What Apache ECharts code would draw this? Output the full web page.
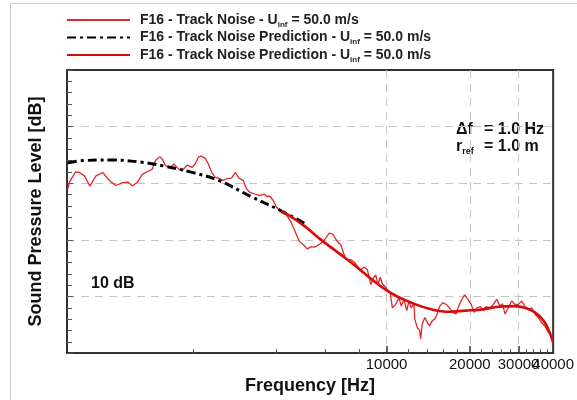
<!DOCTYPE html>
<html>
<head>
<meta charset="utf-8">
<script src="https://cdn.jsdelivr.net/npm/echarts@6/dist/echarts.min.js"></script>
<style>
  html, body { margin: 0; padding: 0; background: #fff; }
  #chart { width: 577px; height: 400px; }
</style>
</head>
<body>
<div id="chart"></div>
<script>
// Measured track noise spectrum (frequency in Hz, level in dB)
const measFreq = [
  705, 714, 752, 776, 809, 847, 891, 942, 996, 1052,
  1112, 1159, 1208, 1259, 1312, 1387, 1423, 1463, 1514, 1546,
  1589, 1656, 1703, 1775, 1824, 1901, 1982, 2032, 2089, 2138,
  2208, 2270, 2335, 2399, 2500, 2570, 2642, 2754, 2844, 2924,
  3034, 3119, 3206, 3342, 3483, 3606, 3681, 3784, 3890, 3999,
  4169, 4345, 4498, 4624, 4753, 4842, 5020, 5164, 5343, 5483,
  5670, 5875, 6043, 6209, 6383, 6622, 6839, 7129, 7430, 7638,
  7852, 8072, 8298, 8531, 8770, 8967, 9142, 9314, 9484, 9660,
  9862, 10066, 10295, 10495, 10791, 11090, 11300, 11560, 11830, 12050,
  12270, 12560, 12650, 12910, 13160, 13280, 13450, 13750, 14030, 14300,
  14620, 14940, 15230, 15530, 15960, 16410, 16870, 17340, 17820, 18230,
  18720, 19150, 19680, 20230, 20700, 21200, 21820, 22400, 22850, 23710,
  24330, 25020, 25700, 26240, 26800, 27550, 28330, 29120, 29940, 30780,
  31620, 32510, 33420, 34360, 35320, 36310, 37330, 38380, 39260, 40000
];
const measLevel = [
  49.0, 50.2, 52.0, 51.9, 51.3, 49.5, 51.3, 51.9, 50.5, 49.6,
  50.1, 50.2, 49.5, 50.2, 51.6, 52.2, 52.5, 54.0, 54.7, 54.3,
  53.1, 52.8, 53.4, 52.5, 52.2, 53.2, 52.8, 53.4, 54.6, 54.8,
  54.4, 53.4, 51.9, 51.1, 50.8, 50.5, 50.8, 50.9, 51.9, 50.9,
  50.5, 49.0, 48.4, 48.1, 47.8, 48.1, 47.7, 47.7, 47.0, 45.8,
  44.8, 44.4, 43.3, 42.0, 40.6, 39.7, 39.1, 38.4, 38.8, 38.7,
  39.1, 39.6, 40.4, 41.2, 41.0, 39.8, 39.1, 36.5, 36.5, 36.1,
  35.3, 34.7, 35.2, 34.7, 32.1, 33.3, 33.8, 32.1, 33.4, 32.2,
  31.8, 31.2, 30.8, 28.0, 28.6, 29.8, 28.3, 29.5, 27.5, 29.2,
  28.0, 28.7, 26.0, 24.5, 24.0, 22.5, 25.1, 26.3, 25.4, 24.8,
  25.7, 26.0, 26.9, 28.2, 28.9, 28.6, 28.0, 27.2, 26.9, 28.3,
  29.5, 30.3, 29.5, 28.6, 27.2, 28.0, 28.2, 27.5, 28.2, 28.0,
  28.6, 29.5, 28.3, 28.7, 26.9, 28.0, 29.2, 28.6, 28.6, 29.2,
  28.3, 27.7, 28.0, 26.9, 26.3, 25.4, 24.8, 23.7, 23.1, 21.9
];

// Prediction, low-frequency part (dash-dot)
const predLowFreq  = [705, 800, 1020, 1310, 1550, 1950, 2470, 3250, 4170, 5050];
const predLowLevel = [53.6, 54.0, 54.1, 53.7, 53.1, 52.0, 50.5, 47.6, 45.1, 42.9];

// Prediction, high-frequency part (solid)
const predHighFreq  = [4170, 5000, 5800, 7230, 10070, 12740, 14620, 16780, 19260, 22100, 25380, 29120, 31620, 34360, 37330, 40000];
const predHighLevel = [45.1, 42.6, 40.0, 36.5, 31.0, 28.6, 27.7, 27.3, 27.5, 27.7, 28.2, 28.3, 28.0, 27.2, 25.4, 21.9];

// Axis ticks, labels and grid lines
const xMajorTicks = [10000, 20000, 30000];
const xInnerLabels = [10000, 20000, 30000];
const xEndLabels = [40000];
const xMinorTicks = [2000, 4000, 6000, 8000, 12000, 14000, 16000, 18000, 22000, 24000, 26000, 28000, 32000, 34000, 36000, 38000];
const yGridLevels = [30, 40, 50, 60];

const legendText = {
  meas: '{t|F16 - Track Noise - U}{s|inf}{t| = 50.0 m/s}',
  predLow: '{t|F16 - Track Noise Prediction - U}{s|inf}{t| = 50.0 m/s}',
  predHigh: '{t|F16 - Track Noise Prediction - U}{s|inf}{t| = 50.0 m/s}'
};

const FONT = '"Liberation Sans", Arial, sans-serif';
const zip = (xs, ys) => xs.map((x, i) => [x, ys[i]]);

const chart = echarts.init(document.getElementById('chart'), null, { renderer: 'canvas' });

const splitStyle = { color: '#c4c4c4', width: 1, type: [8, 6] };
const labelStyle = { margin: 4, fontSize: 15, color: '#111', fontFamily: FONT,
                     showMinLabel: true, showMaxLabel: true, hideOverlap: false,
                     formatter: v => String(Math.round(v)) };

chart.setOption({
  animation: false,
  backgroundColor: '#fff',
  textStyle: { fontFamily: FONT },
  grid: {
    left: 67, right: 22, top: 70, bottom: 44,
    show: true, borderColor: '#333', borderWidth: 2, backgroundColor: 'transparent'
  },
  legend: {
    orient: 'vertical',
    left: 66, top: 13,
    padding: 0,
    itemWidth: 63, itemHeight: 14, itemGap: 2,
    data: ['meas', 'predLow', 'predHigh'],
    itemStyle: { opacity: 0 },
    formatter: name => legendText[name],
    textStyle: {
      fontFamily: FONT,
      padding: [0, 0, 0, 5],
      rich: {
        t: { fontSize: 14, fontWeight: 'bold', color: '#222', fontFamily: FONT, lineHeight: 17 },
        s: { fontSize: 8, fontWeight: 'bold', color: '#222', fontFamily: FONT, verticalAlign: 'bottom', lineHeight: 8 }
      }
    }
  },
  xAxis: [
    {
      type: 'log', logBase: 10, min: 700, max: 40000,
      name: 'Frequency [Hz]', nameLocation: 'middle', nameGap: 18,
      nameTextStyle: { fontSize: 18, fontWeight: 'bold', color: '#111', fontFamily: FONT },
      axisLine: { show: true, lineStyle: { color: '#333', width: 2 } },
      axisTick: { show: true, inside: true, length: 7, customValues: xMajorTicks, lineStyle: { color: '#333', width: 1.5 } },
      axisLabel: Object.assign({ show: true, customValues: xInnerLabels }, labelStyle),
      splitLine: { show: true, lineStyle: splitStyle },
      minorTick: { show: false }
    },
    {
      type: 'log', logBase: 10, min: 700, max: 40000, position: 'bottom', gridIndex: 0,
      axisLine: { show: false },
      axisTick: { show: true, inside: true, length: 4, customValues: xMinorTicks, lineStyle: { color: '#555', width: 1 } },
      axisLabel: Object.assign({ show: true, customValues: xEndLabels }, labelStyle),
      splitLine: { show: false }
    }
  ],
  yAxis: [
    {
      type: 'value', min: 20, max: 70, interval: 10,
      name: 'Sound Pressure Level [dB]', nameLocation: 'middle', nameGap: 22,
      nameTextStyle: { fontSize: 18, fontWeight: 'bold', color: '#111', fontFamily: FONT },
      axisLine: { show: true, lineStyle: { color: '#333', width: 2 } },
      axisTick: { show: true, inside: true, length: 6, lineStyle: { color: '#555', width: 1 } },
      minorTick: { show: true, splitNumber: 5, length: 5, lineStyle: { color: '#555', width: 1 } },
      axisLabel: { show: false },
      splitLine: { show: false }
    },
    {
      // interior grid lines only
      type: 'value', min: 20, max: 70, position: 'left', gridIndex: 0,
      axisLine: { show: false },
      axisTick: { show: false, customValues: yGridLevels },
      axisLabel: { show: false },
      splitLine: { show: true, lineStyle: splitStyle }
    }
  ],
  series: [
    {
      name: 'meas', type: 'line', xAxisIndex: 0, yAxisIndex: 0, symbol: 'none', z: 2,
      data: zip(measFreq, measLevel),
      lineStyle: { color: '#e3262b', width: 1.3 },
      itemStyle: { color: '#e3262b' }
    },
    {
      name: 'predLow', type: 'line', xAxisIndex: 0, yAxisIndex: 0, symbol: 'none', smooth: 0.4, z: 3,
      data: zip(predLowFreq, predLowLevel),
      lineStyle: { color: '#000', width: 3, type: [9, 4, 3, 4] },
      itemStyle: { color: '#000' }
    },
    {
      name: 'predHigh', type: 'line', xAxisIndex: 0, yAxisIndex: 0, symbol: 'none', smooth: 0.4, z: 3,
      data: zip(predHighFreq, predHighLevel),
      lineStyle: { color: '#d40c0c', width: 2.6 },
      itemStyle: { color: '#d40c0c' }
    }
  ],
  graphic: [
    // page frame
    { type: 'line', shape: { x1: 10.5, y1: 3.5, x2: 577, y2: 3.5 }, style: { stroke: '#cfcfcf', lineWidth: 1 }, silent: true },
    { type: 'line', shape: { x1: 10.5, y1: 3.5, x2: 10.5, y2: 400 }, style: { stroke: '#cfcfcf', lineWidth: 1 }, silent: true },
    // scale annotation
    { type: 'text', left: 91, top: 276, style: { text: '10 dB', font: 'bold 16px ' + FONT, fill: '#111' } },
    // analysis parameters
    { type: 'text', left: 456, top: 122, style: { text: 'Δf', font: 'bold 16px ' + FONT, fill: '#111' } },
    { type: 'text', left: 484, top: 122, style: { text: '= 1.0 Hz', font: 'bold 16px ' + FONT, fill: '#111' } },
    { type: 'text', left: 456, top: 139, style: {
        text: '{r|r}{s|ref}',
        rich: {
          r: { font: 'bold 16px ' + FONT, fill: '#111', lineHeight: 18 },
          s: { font: 'bold 9px ' + FONT, fill: '#111', verticalAlign: 'bottom', lineHeight: 9 }
        }
      } },
    { type: 'text', left: 484, top: 139, style: { text: '= 1.0 m', font: 'bold 16px ' + FONT, fill: '#111' } }
  ]
});
</script>
</body>
</html>
